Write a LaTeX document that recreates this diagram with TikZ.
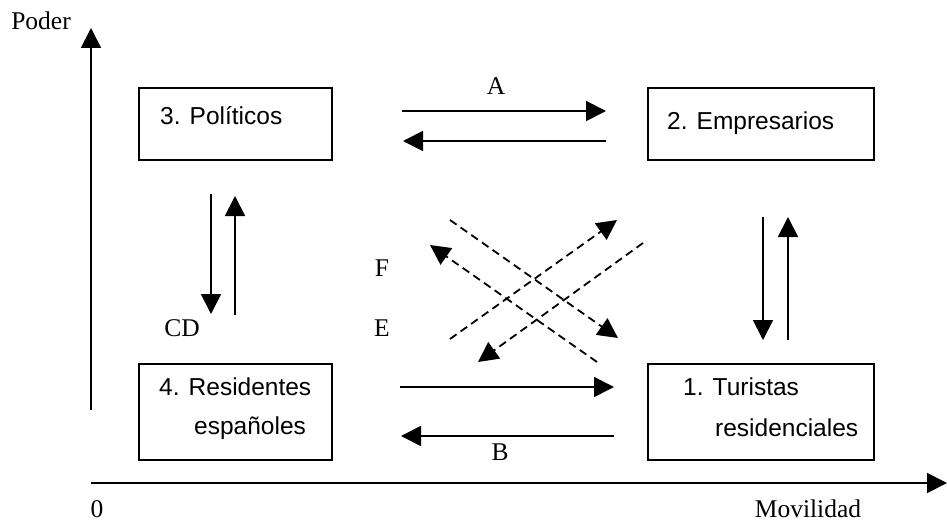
\documentclass[tikz,border=0pt]{standalone}
\usepackage{fontspec}
\setmainfont{Liberation Serif}
\newfontfamily\arialf{Liberation Sans}
\usetikzlibrary{arrows.meta}
\begin{document}
\begin{tikzpicture}[x=1pt,y=-1pt,
  ln/.style={line width=1.8pt},
  arr/.style={ln,-{Triangle[length=20pt,width=20pt]}},
  dsh/.style={arr,dash pattern=on 8pt off 5pt},
  box/.style={draw,line width=1.8pt,inner sep=0pt,anchor=north west},
  boxtext/.style={font=\arialf\fontsize{24.5}{29}\selectfont,inner sep=0pt,anchor=west},
  lab/.style={font=\fontsize{25.5}{30}\selectfont,inner sep=0pt}]
\useasboundingbox (0,0) rectangle (947,524);
% boxes
\node[box,minimum width=193pt,minimum height=72pt] (b3) at (138,87) {};
\node[box,minimum width=226pt,minimum height=72pt] (b2) at (647,87) {};
\node[box,minimum width=193pt,minimum height=96pt] (b4) at (138,363) {};
\node[box,minimum width=226pt,minimum height=96pt] (b1) at (647,363) {};
% box texts
\node[boxtext] (t3) at (160,116) {3. Políticos};
\node[boxtext] (t2) at (667,123) {2. Empresarios};
\node[boxtext] (t4a) at (159,387) {4. Residentes};
\node[boxtext] (t4b) at (194,428) {españoles};
\node[boxtext] (t1a) at (683,387) {1. Turistas};
\node[boxtext] (t1b) at (715,428) {residenciales};
% labels
\node[lab] (poder) at (41,21) {Poder};
\node[lab] (la) at (496,86) {A};
\node[lab] (lb) at (500,452) {B};
\node[lab] (lcd) at (182,328) {CD};
\node[lab] (lf) at (382,268) {F};
\node[lab] (le) at (382,328) {E};
\node[lab] (l0) at (97,509) {0};
\node[lab] (lmov) at (808,509) {Movilidad};
% axes
\coordinate (yo) at (91,410);
\coordinate (yt) at (91,28);
\coordinate (xo) at (91,483);
\coordinate (xt) at (947,483);
\draw[arr] (yo) -- (yt);
\draw[arr] (xo) -- (xt);
% A arrows
\coordinate (a1s) at (402,111); \coordinate (a1e) at (606,111);
\coordinate (a2s) at (606,141); \coordinate (a2e) at (403,141);
\draw[arr] (a1s) -- (a1e);
\draw[arr] (a2s) -- (a2e);
% B arrows
\coordinate (b1s) at (400,387); \coordinate (b1e) at (614,387);
\coordinate (b2s) at (614,436); \coordinate (b2e) at (401,436);
\draw[arr] (b1s) -- (b1e);
\draw[arr] (b2s) -- (b2e);
% CD arrows
\coordinate (c1s) at (211,194); \coordinate (c1e) at (211,314);
\coordinate (c2s) at (235,315); \coordinate (c2e) at (235,196);
\draw[arr] (c1s) -- (c1e);
\draw[arr] (c2s) -- (c2e);
% right vertical arrows
\coordinate (r1s) at (763,217); \coordinate (r1e) at (763,340);
\coordinate (r2s) at (788,340); \coordinate (r2e) at (788,217);
\draw[arr] (r1s) -- (r1e);
\draw[arr] (r2s) -- (r2e);
% dashed diagonals
\coordinate (d1s) at (643,243); \coordinate (d1e) at (478,362);
\coordinate (d2s) at (450,339); \coordinate (d2e) at (617,220);
\coordinate (d3s) at (450,220); \coordinate (d3e) at (618,338);
\coordinate (d4s) at (597,362); \coordinate (d4e) at (430,245);
\draw[dsh] (d1s) -- (d1e);
\draw[dsh] (d2s) -- (d2e);
\draw[dsh] (d3s) -- (d3e);
\draw[dsh] (d4s) -- (d4e);
\end{tikzpicture}
\end{document}
